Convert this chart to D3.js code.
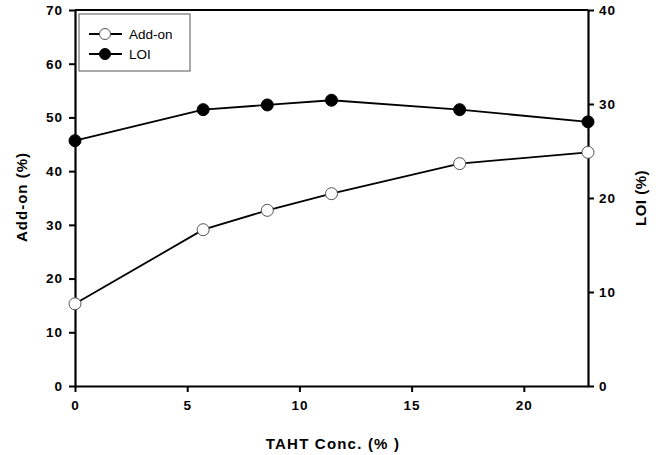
<!DOCTYPE html>
<html><head><meta charset="utf-8">
<script src="https://cdn.jsdelivr.net/npm/d3@7"></script>
<style>body{margin:0;background:#fff;} svg{display:block;font-family:"Liberation Sans",Arial,sans-serif;}</style>
</head><body>
<svg id="c" width="666" height="455"></svg>
<script>
const conc = [0, 5.71, 8.57, 11.43, 17.14, 22.86];
const addOn = [15.3, 29.1, 32.7, 35.8, 41.4, 43.5];
const loi = [26.1, 29.4, 29.9, 30.4, 29.4, 28.1];
const xTicks = [0, 5, 10, 15, 20];
const yLeftTicks = [0, 10, 20, 30, 40, 50, 60, 70];
const yRightTicks = [0, 10, 20, 30, 40];
const seriesNames = ["Add-on", "LOI"];

const svg = d3.select("#c");
const L = 75, R = 588, T = 10, B = 386;
const x = d3.scaleLinear().domain([0, 22.86]).range([L, R]);
const yL = d3.scaleLinear().domain([0, 70]).range([B, T]);
const yR = d3.scaleLinear().domain([0, 40]).range([B, T]);

svg.append("line").attr("x1", L).attr("x2", R).attr("y1", T).attr("y2", T)
  .attr("stroke", "#000").attr("stroke-width", 2);

function styleAxis(g) {
  g.select(".domain").attr("stroke-width", 2.2);
  g.selectAll(".tick line").attr("stroke-width", 2);
  g.selectAll(".tick text").attr("font-size", 13.5).attr("font-weight", "bold")
    .attr("letter-spacing", "1px").attr("fill", "#000");
}
const gx = svg.append("g").attr("transform", `translate(0,${B})`)
  .call(d3.axisBottom(x).tickValues(xTicks).tickSize(6).tickSizeOuter(0).tickPadding(8));
styleAxis(gx);
const gl = svg.append("g").attr("transform", `translate(${L},0)`)
  .call(d3.axisLeft(yL).tickValues(yLeftTicks).tickSize(6).tickSizeOuter(0).tickPadding(6));
styleAxis(gl);
const gr = svg.append("g").attr("transform", `translate(${R},0)`)
  .call(d3.axisRight(yR).tickValues(yRightTicks).tickSize(6).tickSizeOuter(0).tickPadding(5));
styleAxis(gr);

const line = (ys) => d3.line().x((d, i) => x(conc[i])).y(d => ys(d));
svg.append("path").datum(addOn).attr("d", line(yL)).attr("fill", "none").attr("stroke", "#000").attr("stroke-width", 1.8);
svg.append("path").datum(loi).attr("d", line(yR)).attr("fill", "none").attr("stroke", "#000").attr("stroke-width", 1.8);

svg.selectAll(".pa").data(addOn).enter().append("circle")
  .attr("cx", (d, i) => x(conc[i])).attr("cy", d => yL(d)).attr("r", 6)
  .attr("fill", "#fff").attr("stroke", "#555").attr("stroke-width", 1);
svg.selectAll(".pl").data(loi).enter().append("circle")
  .attr("cx", (d, i) => x(conc[i])).attr("cy", d => yR(d)).attr("r", 6)
  .attr("fill", "#000").attr("stroke", "#000").attr("stroke-width", 1);

const lg = svg.append("g");
lg.append("rect").attr("x", 79).attr("y", 14).attr("width", 111).attr("height", 57)
  .attr("fill", "#fff").attr("stroke", "#555").attr("stroke-width", 1);
seriesNames.forEach((n, i) => {
  const yy = 34 + i * 20;
  lg.append("line").attr("x1", 89).attr("x2", 122).attr("y1", yy).attr("y2", yy).attr("stroke", "#000").attr("stroke-width", 1.8);
  lg.append("circle").attr("cx", 105).attr("cy", yy).attr("r", 5.5)
    .attr("fill", i === 0 ? "#fff" : "#000").attr("stroke", i === 0 ? "#555" : "#000");
  lg.append("text").attr("x", 129).attr("y", yy + 5).attr("font-size", 13.5).text(n);
});

svg.append("text").attr("transform", "translate(27,197) rotate(-90)").attr("text-anchor", "middle")
  .attr("font-size", 15).attr("font-weight", "bold").attr("letter-spacing", "1px").text("Add-on (%)");
svg.append("text").attr("transform", "translate(646,198) rotate(-90)").attr("text-anchor", "middle")
  .attr("font-size", 15).attr("font-weight", "bold").attr("letter-spacing", "0.5px").text("LOI (%)");
svg.append("text").attr("x", 333).attr("y", 449).attr("text-anchor", "middle")
  .attr("font-size", 15).attr("font-weight", "bold").attr("letter-spacing", "1.2px").text("TAHT Conc. (% )");
</script>
</body></html>
